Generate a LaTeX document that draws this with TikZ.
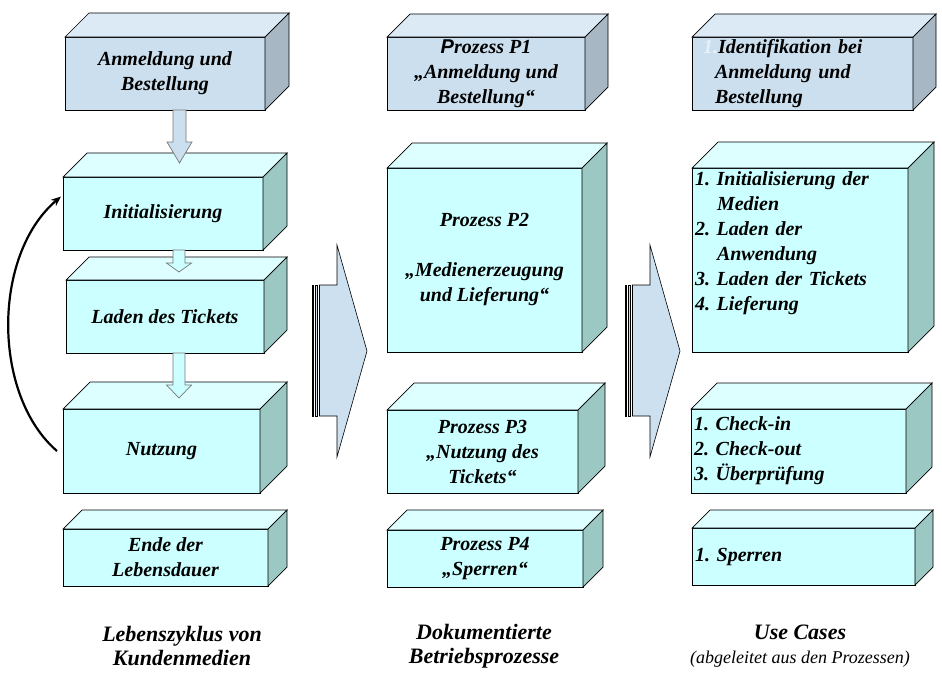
\documentclass[tikz,border=0pt]{standalone}
\usepackage{fontspec}
\setmainfont{Liberation Serif}
\newfontfamily\timesf{Liberation Serif}
\newfontfamily\arialf{Liberation Sans}
\usetikzlibrary{calc,arrows.meta}
\definecolor{bfront}{HTML}{CCDFEE}
\definecolor{btop}{HTML}{DCEAF6}
\definecolor{bside}{HTML}{A7B7C3}
\definecolor{cfront}{HTML}{CCFFFF}
\definecolor{ctop}{HTML}{DDFFFF}
\definecolor{cside}{HTML}{9CC8C4}
\definecolor{arrfill}{HTML}{CCE0F0}
\definecolor{ucone}{HTML}{E6F2FB}
\definecolor{arrline}{HTML}{777777}
\frenchspacing
\newcommand\cuboid[9]{%
  \node[boxtext,draw,fill=#7front,minimum width={#4-#2},minimum height={#5-#3},#9]
    (#1) at ({(#2+#4)/2},{(#3+#5)/2}) {#8};
  \filldraw[face,fill=#7top] (#1.north west) -- ++(#6,-#6) -- ($(#1.north east)+(#6,-#6)$) -- (#1.north east) -- cycle;
  \filldraw[face,fill=#7side] (#1.north east) -- ++(#6,-#6) -- ($(#1.south east)+(#6,-#6)$) -- (#1.south east) -- cycle;
}
\newcommand\blockarrow[7]{% x-center, ytop, ybase, ytip, shaftw, headw, fill
  \filldraw[fill=#7,draw=arrline,line width=0.7pt,line join=miter]
    ({#1-#5/2},#2) -- ({#1-#5/2},#3) -- ({#1-#6/2},#3) -- (#1,#4) -- ({#1+#6/2},#3) -- ({#1+#5/2},#3) -- ({#1+#5/2},#2) -- cycle;
}
\newcommand\bigarrow[1]{% x shift
  \begin{scope}[xshift=#1pt]
    \filldraw[bigarr] (312,285) rectangle (313.6,416);
    \filldraw[bigarr] (315.2,285) rectangle (317,416);
    \filldraw[bigarr] (319.5,285) -- (337,285) -- (337,245) -- (367,351) -- (337,457) -- (337,416) -- (319.5,416) -- cycle;
  \end{scope}
}
\begin{document}
\begin{tikzpicture}[x=1pt,y=-1pt,
  face/.style={draw=black,line width=0.7pt,line join=miter},
  boxtext/.style={line width=0.7pt,outer sep=0pt,inner sep=0pt,align=center,
    font=\timesf\fontsize{20}{25}\selectfont\bfseries\itshape},
  listtext/.style={align=left,inner xsep=3pt,text width={#1-6pt}},
  bigarr/.style={fill=arrfill,draw=black,line width=0.6pt,line join=miter},
  titletext/.style={align=center,inner sep=0pt,font=\timesf\fontsize{22}{24}\selectfont\bfseries\itshape}]
\useasboundingbox (0,0) rectangle (942,675);
\fill[white] (0,0) rectangle (942,675);

% left column
\cuboid{anm}{65}{37}{265}{110}{24}{b}{Anmeldung und\\Bestellung}{}
\cuboid{init}{63}{177}{263}{250}{24}{c}{Initialisierung}{}
\cuboid{laden}{66}{280}{264}{353}{23}{c}{Laden des Tickets}{}
\cuboid{nutz}{63}{409}{260}{493}{27}{c}{Nutzung}{}
\cuboid{ende}{63}{529}{268}{586}{19}{c}{Ende der\\Lebensdauer}{}

\blockarrow{179.5}{110}{142}{163}{13}{25}{bfront}
\blockarrow{179}{250}{263}{272}{12}{25}{cfront}
\blockarrow{179}{353}{385}{398}{12}{25}{cfront}

\coordinate (cstart) at ([xshift=-6pt]nutz.west);
\coordinate (cend) at ([xshift=-2pt,yshift=17pt]init.west);
\draw[line width=2.2pt,-{Stealth[length=10pt,width=8pt]}] (cstart) .. controls (-8,395) and (-8,255) .. (cend);

% middle column
\cuboid{p1}{387}{37}{585}{110}{23}{b}{{\arialf P}rozess P1\\„Anmeldung und\\Bestellung“}{}
\cuboid{p2}{387}{168}{582}{352}{25}{c}{Prozess P2\\[25pt]„Medienerzeugung\\und Lieferung“}{}
\cuboid{p3}{387}{410}{578}{493}{27}{c}{Prozess P3\\„Nutzung des\\Tickets“}{}
\cuboid{p4}{387}{530}{583}{587}{20}{c}{Prozess P4\\„Sperren“}{}

% right column
\cuboid{uc1}{692}{37}{913}{110}{23}{b}{{\color{ucone}1.}Identifikation bei\\\hspace*{0.6em}Anmeldung und\\\hspace*{0.6em}Bestellung}{align=left,inner xsep=11pt,text width=199pt}
\cuboid{uc2}{692}{168}{908}{352}{26}{c}{1. Initialisierung der\\\hspace*{1.1em}Medien\\2. Laden der\\\hspace*{1.1em}Anwendung\\3. Laden der Tickets\\4. Lieferung\\[12pt]\mbox{}}{listtext=216pt}
\cuboid{uc3}{691}{409}{906}{493}{26}{c}{1. Check-in\\2. Check-out\\3. Überprüfung}{listtext=215pt}
\cuboid{uc4}{692}{528}{915}{585}{18}{c}{1. Sperren}{listtext=223pt}

% big arrows
\bigarrow{0}
\bigarrow{313}

% titles
\node[titletext] (t1) at (182,646) {Lebenszyklus von\\Kundenmedien};
\node[titletext] (t2) at (484,646) {Dokumentierte\\Betriebsprozesse};
\node[titletext] (t3) at (800,646) {Use Cases\\{\fontsize{18}{24}\selectfont\mdseries (abgeleitet aus den Prozessen)}};
\end{tikzpicture}
\end{document}
